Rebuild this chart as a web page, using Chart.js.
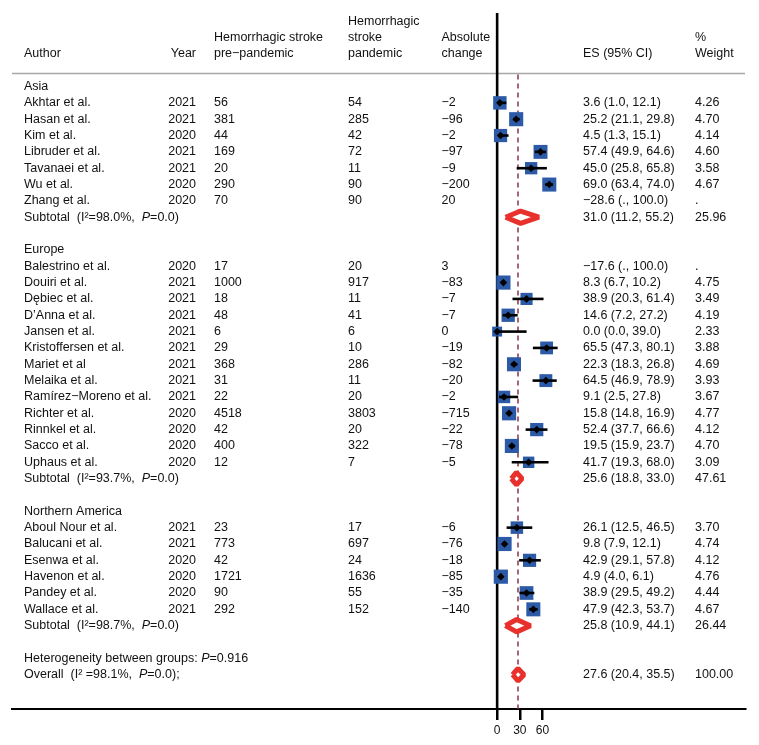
<!DOCTYPE html>
<html>
<head>
  <meta charset="utf-8">
  <title>Hemorrhagic stroke forest plot</title>
  <script src="https://cdn.jsdelivr.net/npm/chart.js"></script>
  <style>
    body { margin: 0; background: #fff; }
  </style>
</head>
<body>
  <canvas id="forestChart" width="759" height="745"></canvas>

  <script>
    // ---- data ----
    var groups = ['Asia', 'Europe', 'Northern America'];
    var studyGroup = [0, 0, 0, 0, 0, 0, 0,
                      1, 1, 1, 1, 1, 1, 1, 1, 1, 1, 1, 1, 1,
                      2, 2, 2, 2, 2, 2];
    var authors = ['Akhtar et al.', 'Hasan et al.', 'Kim et al.', 'Libruder et al.', 'Tavanaei et al.', 'Wu et al.', 'Zhang et al.',
                   'Balestrino et al.', 'Douiri et al.', 'D\u0119biec et al.', 'D\u2019Anna et al.', 'Jansen et al.', 'Kristoffersen et al.',
                   'Mariet et al', 'Melaika et al.', 'Ram\u00edrez\u2212Moreno et al.', 'Richter et al.', 'Rinnkel et al.', 'Sacco et al.', 'Uphaus et al.',
                   'Aboul Nour et al.', 'Balucani et al.', 'Esenwa et al.', 'Havenon et al.', 'Pandey et al.', 'Wallace et al.'];
    var years = [2021, 2021, 2020, 2021, 2021, 2020, 2020,
                 2020, 2021, 2021, 2021, 2021, 2021, 2021, 2021, 2021, 2020, 2020, 2020, 2020,
                 2021, 2021, 2020, 2020, 2020, 2021];
    var prePandemic = [56, 381, 44, 169, 20, 290, 70,
                       17, 1000, 18, 48, 6, 29, 368, 31, 22, 4518, 42, 400, 12,
                       23, 773, 42, 1721, 90, 292];
    var pandemic = [54, 285, 42, 72, 11, 90, 90,
                    20, 917, 11, 41, 6, 10, 286, 11, 20, 3803, 20, 322, 7,
                    17, 697, 24, 1636, 55, 152];
    var absChange = [-2, -96, -2, -97, -9, -200, 20,
                     3, -83, -7, -7, 0, -19, -82, -20, -2, -715, -22, -78, -5,
                     -6, -76, -18, -85, -35, -140];
    var es = [3.6, 25.2, 4.5, 57.4, 45.0, 69.0, -28.6,
              -17.6, 8.3, 38.9, 14.6, 0.0, 65.5, 22.3, 64.5, 9.1, 15.8, 52.4, 19.5, 41.7,
              26.1, 9.8, 42.9, 4.9, 38.9, 47.9];
    var ciLow = [1.0, 21.1, 1.3, 49.9, 25.8, 63.4, null,
                 null, 6.7, 20.3, 7.2, 0.0, 47.3, 18.3, 46.9, 2.5, 14.8, 37.7, 15.9, 19.3,
                 12.5, 7.9, 29.1, 4.0, 29.5, 42.3];
    var ciHigh = [12.1, 29.8, 15.1, 64.6, 65.8, 74.0, 100.0,
                  100.0, 10.2, 61.4, 27.2, 39.0, 80.1, 26.8, 78.9, 27.8, 16.9, 66.6, 23.7, 68.0,
                  46.5, 12.1, 57.8, 6.1, 49.2, 53.7];
    var weight = [4.26, 4.70, 4.14, 4.60, 3.58, 4.67, null,
                  null, 4.75, 3.49, 4.19, 2.33, 3.88, 4.69, 3.93, 3.67, 4.77, 4.12, 4.70, 3.09,
                  3.70, 4.74, 4.12, 4.76, 4.44, 4.67];

    var subI2 = [98.0, 93.7, 98.7];
    var subP = [0.0, 0.0, 0.0];
    var subEs = [31.0, 25.6, 25.8];
    var subLow = [11.2, 18.8, 10.9];
    var subHigh = [55.2, 33.0, 44.1];
    var subWeight = [25.96, 47.61, 26.44];

    var overallEs = 27.6;
    var overallLow = 20.4;
    var overallHigh = 35.5;
    var overallI2 = 98.1;
    var overallP = 0.0;
    var betweenP = 0.916;

    var xTicks = [0, 30, 60];

    // ---- row layout ----
    var studyRow = [];
    var groupRow = [];
    var subRow = [];
    var r = 0;
    groups.forEach(function(g, gi) {
      groupRow[gi] = r++;
      for (var i = 0; i < authors.length; i++) {
        if (studyGroup[i] === gi) studyRow[i] = r++;
      }
      subRow[gi] = r++;
      r++;
    });
    var hetRow = r++;
    var overallRow = r++;

    var FONT = '"Liberation Sans", Arial, Helvetica, sans-serif';
    var TEXT = '#111';
    var BLUE = '#2C5AA6';
    var RED = '#E8302C';
    var DIAMOND_HALF = 0.38;

    function minus(s) { return String(s).replace('-', '\u2212'); }
    function f1(v) { return v === null ? '.' : minus(v.toFixed(1)); }
    function esText(e, lo, hi) { return f1(e) + ' (' + f1(lo) + ', ' + f1(hi) + ')'; }

    // ---- datasets ----
    var shown = [];
    for (var i = 0; i < authors.length; i++) {
      if (weight[i] !== null) shown.push(i);
    }

    var datasets = [];
    datasets.push({
      data: shown.map(function(i) { return { x: es[i], y: studyRow[i] }; }),
      pointStyle: 'rectRot',
      pointRadius: 3.8,
      backgroundColor: '#000',
      borderWidth: 0,
      order: 0
    });
    shown.forEach(function(i) {
      datasets.push({
        data: [{ x: ciLow[i], y: studyRow[i] }, { x: ciHigh[i], y: studyRow[i] }],
        showLine: true,
        borderColor: '#000',
        borderWidth: 2.6,
        pointRadius: 0,
        order: 1
      });
    });
    datasets.push({
      data: shown.map(function(i) { return { x: es[i], y: studyRow[i] }; }),
      pointStyle: 'rect',
      pointRadius: function(ctx) {
        return 6.5 * Math.sqrt(weight[shown[ctx.dataIndex]]) / Math.SQRT2;
      },
      backgroundColor: BLUE,
      borderWidth: 0,
      order: 2
    });

    function diamond(lo, mid, hi, row) {
      return {
        data: [
          { x: lo, y: row }, { x: mid, y: row - DIAMOND_HALF },
          { x: hi, y: row }, { x: mid, y: row + DIAMOND_HALF }, { x: lo, y: row }
        ],
        showLine: true,
        fill: 'shape',
        backgroundColor: '#fff',
        borderColor: RED,
        borderWidth: 5,
        borderJoinStyle: 'bevel',
        pointRadius: 0,
        order: 3
      };
    }
    groups.forEach(function(g, gi) {
      datasets.push(diamond(subLow[gi], subEs[gi], subHigh[gi], subRow[gi]));
    });
    datasets.push(diamond(overallLow, overallEs, overallHigh, overallRow));

    // ---- text columns ----
    var col = { author: 24, year: 196, pre: 214, pand: 348, abs: 441.5, es: 583, wt: 695 };

    function rich(ctx, x, y, parts) {
      parts.forEach(function(p) {
        ctx.font = (p[1] ? 'italic ' : '') + '12.5px ' + FONT;
        ctx.fillText(p[0], x, y);
        x += ctx.measureText(p[0]).width;
      });
    }

    var forestPlugin = {
      id: 'forest',
      beforeDatasetsDraw: function(chart) {
        var ctx = chart.ctx;
        var xs = chart.scales.x, ys = chart.scales.y;
        var area = chart.chartArea;
        var sepY = ys.getPixelForValue(-0.8);
        ctx.save();
        ctx.strokeStyle = '#A8A8A8';
        ctx.lineWidth = 1.5;
        ctx.beginPath();
        ctx.moveTo(area.left, sepY);
        ctx.lineTo(area.right, sepY);
        ctx.stroke();

        ctx.strokeStyle = '#8A3448';
        ctx.lineWidth = 1.5;
        ctx.setLineDash([5, 4]);
        var ox = xs.getPixelForValue(overallEs);
        ctx.beginPath();
        ctx.moveTo(ox, sepY + 1);
        ctx.lineTo(ox, area.bottom);
        ctx.stroke();
        ctx.setLineDash([]);

        ctx.strokeStyle = '#000';
        ctx.lineWidth = 2.6;
        var zx = xs.getPixelForValue(0);
        ctx.beginPath();
        ctx.moveTo(zx, area.top);
        ctx.lineTo(zx, area.bottom);
        ctx.stroke();
        ctx.restore();
      },
      afterDraw: function(chart) {
        var ctx = chart.ctx;
        var ys = chart.scales.y;
        function y(row) { return ys.getPixelForValue(row); }
        ctx.save();
        ctx.fillStyle = TEXT;
        ctx.textBaseline = 'middle';
        ctx.font = '12.5px ' + FONT;

        // header
        ctx.textAlign = 'left';
        ctx.fillText('Author', col.author, y(-2));
        ctx.fillText('Hemorrhagic stroke', col.pre, y(-3));
        ctx.fillText('pre\u2212pandemic', col.pre, y(-2));
        ctx.fillText('Hemorrhagic', col.pand, y(-4));
        ctx.fillText('stroke', col.pand, y(-3));
        ctx.fillText('pandemic', col.pand, y(-2));
        ctx.fillText('Absolute', col.abs, y(-3));
        ctx.fillText('change', col.abs, y(-2));
        ctx.fillText('ES (95% CI)', col.es, y(-2));
        ctx.fillText('%', col.wt, y(-3));
        ctx.fillText('Weight', col.wt, y(-2));
        ctx.textAlign = 'right';
        ctx.fillText('Year', col.year, y(-2));

        // studies
        for (var i = 0; i < authors.length; i++) {
          var yy = y(studyRow[i]);
          ctx.textAlign = 'left';
          ctx.fillText(authors[i], col.author, yy);
          ctx.fillText(String(prePandemic[i]), col.pre, yy);
          ctx.fillText(String(pandemic[i]), col.pand, yy);
          ctx.fillText(minus(absChange[i]), col.abs, yy);
          ctx.fillText(esText(es[i], ciLow[i], ciHigh[i]), col.es, yy);
          ctx.fillText(weight[i] === null ? '.' : weight[i].toFixed(2), col.wt, yy);
          ctx.textAlign = 'right';
          ctx.fillText(String(years[i]), col.year, yy);
        }

        // groups and subtotals
        ctx.textAlign = 'left';
        groups.forEach(function(g, gi) {
          ctx.font = '12.5px ' + FONT;
          ctx.fillText(g, col.author, y(groupRow[gi]));
          var sy = y(subRow[gi]);
          rich(ctx, col.author, sy, [
            ['Subtotal  (I\u00b2=' + subI2[gi].toFixed(1) + '%,  ', false],
            ['P', true], ['=' + subP[gi].toFixed(1) + ')', false]
          ]);
          ctx.font = '12.5px ' + FONT;
          ctx.fillText(esText(subEs[gi], subLow[gi], subHigh[gi]), col.es, sy);
          ctx.fillText(subWeight[gi].toFixed(2), col.wt, sy);
        });

        rich(ctx, col.author, y(hetRow), [
          ['Heterogeneity between groups: ', false], ['P', true], ['=' + betweenP.toFixed(3), false]
        ]);
        var oy = y(overallRow);
        rich(ctx, col.author, oy, [
          ['Overall  (I\u00b2 =' + overallI2.toFixed(1) + '%,  ', false],
          ['P', true], ['=' + overallP.toFixed(1) + ');', false]
        ]);
        ctx.font = '12.5px ' + FONT;
        ctx.fillText(esText(overallEs, overallLow, overallHigh), col.es, oy);
        ctx.fillText((100).toFixed(2), col.wt, oy);
        ctx.restore();
      }
    };

    var ctx = document.getElementById('forestChart').getContext('2d');
    var forestChart = new Chart(ctx, {
      type: 'scatter',
      data: { datasets: datasets },
      options: {
        responsive: false,
        animation: false,
        layout: { padding: { top: 13, left: 12, right: 14, bottom: 0 } },
        plugins: { legend: { display: false }, tooltip: { enabled: false } },
        scales: {
          x: {
            type: 'linear',
            min: -642,
            max: 328,
            afterBuildTicks: function(scale) {
              scale.ticks = xTicks.map(function(v) { return { value: v }; });
            },
            afterFit: function(scale) { scale.height = 36; },
            grid: { display: true, drawOnChartArea: false, drawTicks: true, tickLength: 11, color: '#000', lineWidth: 2.5 },
            border: { display: true, color: '#000', width: 2 },
            ticks: { color: '#111', padding: 3, font: { family: FONT, size: 12 } }
          },
          y: {
            type: 'linear',
            display: false,
            reverse: true,
            min: -4.5,
            max: 38.1
          }
        }
      },
      plugins: [forestPlugin]
    });
  </script>
</body>
</html>
